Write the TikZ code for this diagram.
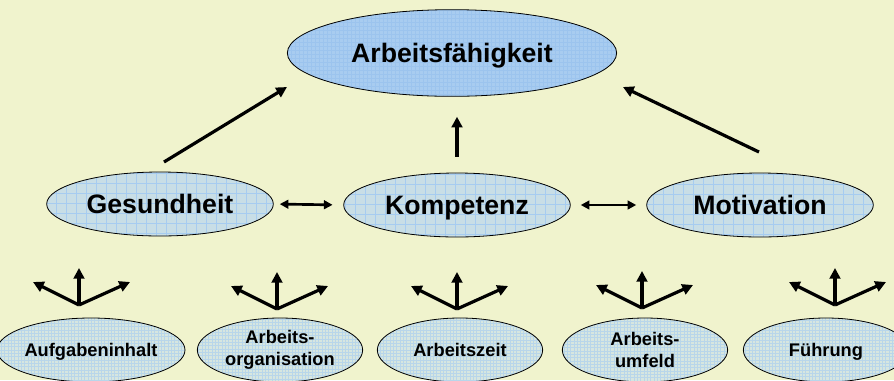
\documentclass[tikz,border=0pt]{standalone}
\usepackage{fontspec}
\setmainfont{Liberation Sans}
\usetikzlibrary{positioning}
\usetikzlibrary{shapes.geometric}
\usetikzlibrary{arrows.meta}

\definecolor{hintergrund}{RGB}{240,243,205}
\definecolor{blauoben}{RGB}{168,204,240}
\definecolor{gitteroben}{RGB}{156,196,238}
\definecolor{blaumitte}{RGB}{200,222,230}
\definecolor{gittermitte}{RGB}{166,204,240}
\definecolor{blauunten}{RGB}{214,230,224}
\definecolor{gitterunten}{RGB}{184,214,234}

\tikzset{
  oval/.style={ellipse, draw, line width=0.6pt, inner sep=0pt, align=center},
  ovaloben/.style={oval, fill=blauoben, minimum width=247pt, minimum height=65pt,
    font=\fontsize{20}{24}\selectfont\bfseries, text height=14.5pt, text depth=0pt,
    path picture={\draw[gitteroben, line width=0.3pt, step=3pt]
      (path picture bounding box.south west) grid (path picture bounding box.north east);}},
  ovalmitte/.style={oval, fill=blaumitte, minimum width=170pt, minimum height=48pt,
    font=\fontsize{20}{24}\selectfont\bfseries, text height=14.5pt, text depth=0pt,
    path picture={\draw[gittermitte, line width=0.5pt, step=7.5pt]
      (path picture bounding box.south west) grid (path picture bounding box.north east);}},
  ovalunten/.style={oval, fill=blauunten, minimum width=124pt, minimum height=48pt,
    font=\fontsize{13.7}{16.5}\selectfont\bfseries,
    path picture={\draw[gitterunten, line width=0.3pt, step=2.5pt]
      (path picture bounding box.south west) grid (path picture bounding box.north east);}},
  einzeilig/.style={text height=10pt, text depth=0pt},
  pfeil/.style={line width=2.4pt, -{Triangle[length=8pt,width=8pt]}},
  doppelpfeil/.style={line width=2pt, {Triangle[length=6.5pt,width=6.5pt]}-{Triangle[length=6.5pt,width=6.5pt]}},
}

\begin{document}
\begin{tikzpicture}[x=0.75pt, y=-0.75pt]
\fill[hintergrund] (0,0) rectangle (894,380);
\useasboundingbox (0,0) rectangle (894,380);

% Zielgroesse
\node[ovaloben] (arb) at (452,53) {Arbeitsfähigkeit};

% drei Saeulen
\node[ovalmitte] (ges) at (160,204) {Gesundheit};
\node[ovalmitte] (kom) at (457,205) {Kompetenz};
\node[ovalmitte] (mot) at (760,205) {Motivation};

% Einflussfaktoren
\node[ovalunten, einzeilig] (auf) at (91,350) {Aufgabeninhalt};
\node[ovalunten] (org) at (280,350) {Arbeits-\\organisation};
\node[ovalunten, einzeilig] (zeit) at (460,350) {Arbeitszeit};
\node[ovalunten] (umf) at (645,350) {Arbeits-\\umfeld};
\node[ovalunten, einzeilig] (fue) at (826,350) {Führung};

% Pfeile nach oben
\coordinate (gesaus) at (164,162);
\coordinate (gesein) at (287,87);
\coordinate (motaus) at (759,152);
\coordinate (motein) at (623,87);
\draw[pfeil] (gesaus) -- (gesein);
\draw[pfeil] (motaus) -- (motein);
\draw[pfeil, shorten <=12pt, shorten >=15pt] (kom.north) -- (kom.north |- arb.south);

% Wechselwirkungen
\draw[doppelpfeil, shorten <=4.5pt, shorten >=8pt] (ges.east) -- (kom.west);
\draw[doppelpfeil, shorten <=7.5pt, shorten >=7.5pt] (kom.east) -- (mot.west);

% Faecher ueber den Faktoren
\foreach \n/\x/\y in {1/79/305, 2/277/309, 3/457/309, 4/642/308, 5/835/305} {
  \coordinate (fach\n) at (\x,\y);
  \coordinate (links\n) at (\x-46,\y-23);
  \coordinate (mitte\n) at (\x,\y-37);
  \coordinate (rechts\n) at (\x+51,\y-23);
  \draw[pfeil] (fach\n) -- (links\n);
  \draw[pfeil] (fach\n) -- (mitte\n);
  \draw[pfeil] (fach\n) -- (rechts\n);
}
\end{tikzpicture}
\end{document}
